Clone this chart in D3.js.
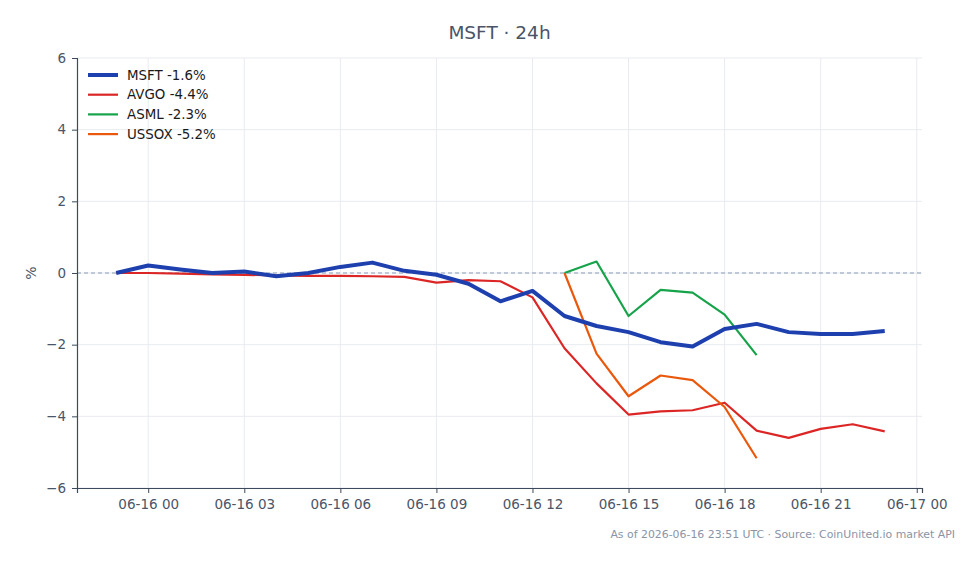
<!DOCTYPE html>
<html>
<head>
<meta charset="utf-8">
<script src="https://cdn.jsdelivr.net/npm/d3@7"></script>
<style>
  body { margin: 0; background: #fff; }
  svg { font-family: "DejaVu Sans", sans-serif; }
</style>
</head>
<body>
<div id="chart"></div>
<script>
// hourly timestamps, 06-15 23:00 .. 06-16 23:00 UTC
var hours = ["2026-06-15T23:00Z", "2026-06-16T00:00Z", "2026-06-16T01:00Z", "2026-06-16T02:00Z",
  "2026-06-16T03:00Z", "2026-06-16T04:00Z", "2026-06-16T05:00Z", "2026-06-16T06:00Z",
  "2026-06-16T07:00Z", "2026-06-16T08:00Z", "2026-06-16T09:00Z", "2026-06-16T10:00Z",
  "2026-06-16T11:00Z", "2026-06-16T12:00Z", "2026-06-16T13:00Z", "2026-06-16T14:00Z",
  "2026-06-16T15:00Z", "2026-06-16T16:00Z", "2026-06-16T17:00Z", "2026-06-16T18:00Z",
  "2026-06-16T19:00Z", "2026-06-16T20:00Z", "2026-06-16T21:00Z", "2026-06-16T22:00Z",
  "2026-06-16T23:00Z"];

var msft = [0, 0.21, 0.1, 0.0, 0.04, -0.09, 0.0, 0.17, 0.29, 0.06, -0.05, -0.3, -0.79, -0.5,
  -1.2, -1.48, -1.65, -1.93, -2.05, -1.56, -1.42, -1.65, -1.7, -1.7, -1.62];
var avgo = [0, 0, -0.02, -0.04, -0.05, -0.07, -0.08, -0.08, -0.09, -0.11, -0.27, -0.2, -0.23, -0.68,
  -2.1, -3.08, -3.95, -3.86, -3.83, -3.62, -4.4, -4.6, -4.35, -4.22, -4.42];
// ASML and USSOX only trade from 13:00
var asml = [null, null, null, null, null, null, null, null, null, null, null, null, null, null,
  0, 0.32, -1.2, -0.47, -0.55, -1.16, -2.29, null, null, null, null];
var ussox = [null, null, null, null, null, null, null, null, null, null, null, null, null, null,
  0, -2.25, -3.44, -2.86, -2.99, -3.74, -5.17, null, null, null, null];

var seriesNames = ["MSFT -1.6%", "AVGO -4.4%", "ASML -2.3%", "USSOX -5.2%"];
var seriesColors = ["#1e40af", "#dc2626", "#16a34a", "#ea580c"];
var seriesWidths = [4, 2.2, 2.2, 2.2];
var yTicks = [-6, -4, -2, 0, 2, 4, 6];

var svgWidth = 979;
var svgHeight = 564;
var margin = { top: 58, right: 57, bottom: 76, left: 77 };
var width = svgWidth - margin.left - margin.right;
var height = svgHeight - margin.top - margin.bottom;

var svg = d3.select("#chart").append("svg")
  .attr("width", svgWidth)
  .attr("height", svgHeight);

var chartGroup = svg.append("g")
  .attr("transform", `translate(${margin.left}, ${margin.top})`);

var parsed = hours.map(h => new Date(h));
var t0 = parsed[0].getTime(), t1 = parsed[parsed.length - 1].getTime();
var pad = (t1 - t0) * 0.05;

var xScale = d3.scaleUtc()
  .domain([new Date(t0 - pad * 1.02), new Date(t1 + pad * 0.97)])
  .range([0, width]);
var yScale = d3.scaleLinear().domain([-6, 6]).range([height, 0]);

var xTicks = d3.range(0, 9).map(i => new Date(Date.UTC(2026, 5, 16, i * 3)));

// grid
chartGroup.append("g").selectAll("line").data(xTicks).enter().append("line")
  .attr("x1", d => xScale(d)).attr("x2", d => xScale(d))
  .attr("y1", 0).attr("y2", height)
  .attr("stroke", "#e8ebf0").attr("stroke-width", 1);
chartGroup.append("g").selectAll("line").data(yTicks).enter().append("line")
  .attr("x1", 0).attr("x2", width)
  .attr("y1", d => yScale(d)).attr("y2", d => yScale(d))
  .attr("stroke", "#e8ebf0").attr("stroke-width", 1);

// zero line
chartGroup.append("line")
  .attr("x1", 0).attr("x2", width)
  .attr("y1", yScale(0)).attr("y2", yScale(0))
  .attr("stroke", "#8a9bb5").attr("stroke-width", 1)
  .attr("stroke-dasharray", "4,3");

// axes
var bottomAxis = d3.axisBottom(xScale).tickValues(xTicks)
  .tickFormat(d3.utcFormat("%m-%d %H")).tickSizeOuter(0).tickSize(5).tickPadding(6);
var leftAxis = d3.axisLeft(yScale).tickValues(yTicks)
  .tickFormat(d => d < 0 ? "\u2212" + Math.abs(d) : d).tickSizeOuter(0).tickSize(5).tickPadding(6);

var xAxis = chartGroup.append("g")
  .attr("transform", `translate(0, ${height})`)
  .call(bottomAxis);
var yAxis = chartGroup.append("g").call(leftAxis);

[xAxis, yAxis].forEach(function(ax) {
  ax.select(".domain").attr("stroke", "#3d4a5c").attr("stroke-width", 1.2);
  ax.selectAll(".tick line").attr("stroke", "#3d4a5c");
  ax.selectAll(".tick text").attr("fill", "#4a5568").attr("font-size", 13.5)
    .attr("font-family", "DejaVu Sans, sans-serif");
});

// lines
var allSeries = [msft, avgo, asml, ussox];
var line = d3.line()
  .defined(d => d.v !== null)
  .x(d => xScale(d.t))
  .y(d => yScale(d.v));

// draw thin lines first, MSFT on top
[1, 2, 3, 0].forEach(function(i) {
  var pts = allSeries[i].map((v, j) => ({ t: parsed[j], v: v }));
  chartGroup.append("path")
    .datum(pts)
    .attr("fill", "none")
    .attr("stroke", seriesColors[i])
    .attr("stroke-width", seriesWidths[i])
    .attr("stroke-linejoin", "round")
    .attr("d", line);
});

// legend
var legend = chartGroup.append("g").attr("transform", "translate(11, 17)");
seriesNames.forEach(function(name, i) {
  var g = legend.append("g").attr("transform", `translate(0, ${i * 19.7})`);
  g.append("line").attr("x1", 0).attr("x2", 30).attr("y1", 0).attr("y2", 0)
    .attr("stroke", seriesColors[i]).attr("stroke-width", seriesWidths[i]);
  g.append("text").attr("x", 39).attr("y", 0).attr("dy", "0.35em")
    .attr("font-size", 13.4).attr("fill", "#1a1a1a").text(name);
});

// title
svg.append("text")
  .attr("x", margin.left + width / 2).attr("y", 39)
  .attr("text-anchor", "middle")
  .attr("font-size", 18.5).attr("fill", "#4a5568")
  .text("MSFT \u00b7 24h");

// y label
svg.append("text")
  .attr("transform", `translate(36, ${margin.top + yScale(0)}) rotate(-90)`)
  .attr("text-anchor", "middle")
  .attr("font-size", 14).attr("fill", "#4a5568")
  .text("%");

// footer
svg.append("text")
  .attr("x", 955).attr("y", 538)
  .attr("text-anchor", "end")
  .attr("font-size", 10.9).attr("fill", "#8a94a6")
  .text("As of 2026-06-16 23:51 UTC \u00b7 Source: CoinUnited.io market API");
</script>
</body>
</html>
